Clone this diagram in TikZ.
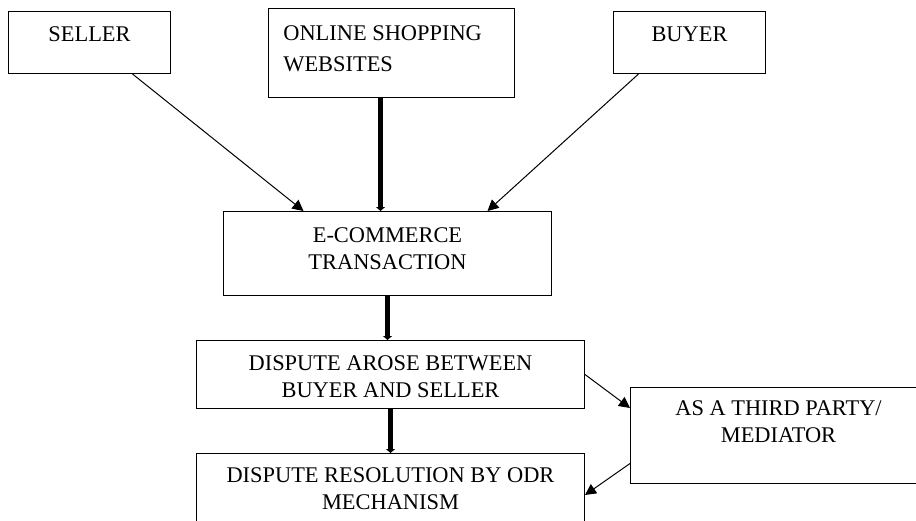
\documentclass[tikz,border=0pt]{standalone}
\usepackage{fontspec}
\setmainfont{Liberation Serif}
\usepackage{tikz}
\usetikzlibrary{arrows.meta, positioning}

\begin{document}
\begin{tikzpicture}[
        x=0.5pt, y=-0.5pt,
        block/.style={draw, line width=0.5pt, rectangle, anchor=north west, inner sep=0pt},
        label/.style={inner sep=0pt, align=center, font=\fontsize{11.2}{13.5}\selectfont},
        arrow/.style={line width=0.5pt, -{Triangle[length=5.5pt, width=5.5pt]}},
        thick arrow/.style={line width=2.4pt, -{Triangle[length=2pt, width=4.5pt]}}
    ]
        \useasboundingbox (0,0) rectangle (916,520);

        % Blocks
        \node[block, minimum width=81pt, minimum height=31pt] (seller) at (8,11) {};
        \node[block, minimum width=123pt, minimum height=44.5pt] (online) at (268,8) {};
        \node[block, minimum width=76pt, minimum height=31pt] (buyer) at (613,11) {};
        \node[block, minimum width=164pt, minimum height=42pt] (ecom) at (223,211) {};
        \node[block, minimum width=194pt, minimum height=34pt] (arose) at (196,340) {};
        \node[block, minimum width=148pt, minimum height=48pt] (mediator) at (630,387) {};
        \node[block, minimum width=194pt, minimum height=38.5pt] (odr) at (196,453) {};

        % Texts
        \node[label, below=7.5pt of seller.north] (sellertext) {SELLER};
        \node[label, align=left, below right=8.5pt and 7.5pt of online.north west] (onlinetext) {ONLINE SHOPPING\\[2.3pt]WEBSITES};
        \node[label, below=7.5pt of buyer.north] (buyertext) {BUYER};
        \node[label, below=8pt of ecom.north] (ecomtext) {E-COMMERCE\\TRANSACTION};
        \node[label, below=7.5pt of arose.north] (arosetext) {DISPUTE AROSE BETWEEN\\BUYER AND SELLER};
        \node[label, below=6.5pt of mediator.north] (mediatortext) {AS A THIRD PARTY/\\MEDIATOR};
        \node[label, below=7pt of odr.north] (odrtext) {DISPUTE RESOLUTION BY ODR\\MECHANISM};

        % Arrows
        \draw[arrow] ([xshift=21.5pt]seller.south) -- ([xshift=-42pt]ecom.north);
        \draw[thick arrow] ([xshift=-5.5pt]online.south) -- ([xshift=-3.5pt]ecom.north);
        \draw[arrow] ([xshift=-25.5pt]buyer.south) -- ([xshift=50pt]ecom.north);
        \draw[thick arrow] (ecom.south) -- (ecom.south |- arose.north);
        \draw[thick arrow] (arose.south) -- (odr.north);
        \draw[arrow] (arose.east) -- ([yshift=-10.5pt]mediator.north west);
        \draw[arrow] ([yshift=-14pt]mediator.west) -- ([yshift=-21pt]odr.north east);
    \end{tikzpicture}
\end{document}
